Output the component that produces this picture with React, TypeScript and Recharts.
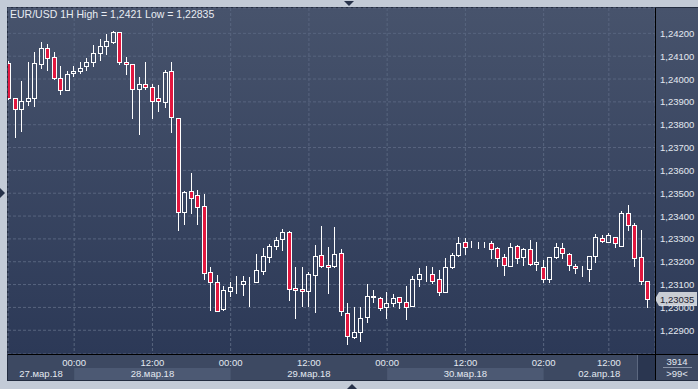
import React from "react";
import { ComposedChart, Bar, XAxis, YAxis, CartesianGrid, ReferenceLine } from "recharts";

// hourly EUR/USD candles, 27.03 14:00 .. 02.04 18:00
const open = [
  1.2407, 1.23917, 1.23869, 1.23904, 1.23917, 1.24066, 1.24136, 1.24096, 1.24004, 1.23952,
  1.24026, 1.24035, 1.24057, 1.24074, 1.24114, 1.24145, 1.24162, 1.24206, 1.24074, 1.24066,
  1.23956, 1.23978, 1.23965, 1.23917, 1.23899, 1.24035, 1.23829, 1.23417, 1.23509, 1.23492,
  1.23444, 1.23155, 1.23111, 1.22993, 1.23071, 1.23089, 1.23102, 1.23115, 1.23111, 1.23159,
  1.2322, 1.23268, 1.23299, 1.2333, 1.23085, 1.2308, 1.23071, 1.23141, 1.23229, 1.23185,
  1.23181, 1.23238, 1.22975, 1.2287, 1.22892, 1.22957, 1.2305, 1.23041, 1.23001, 1.23019,
  1.23045, 1.23023, 1.23006, 1.23124, 1.2315, 1.23146, 1.23124, 1.23067, 1.23176, 1.23229,
  1.23286, 1.23268, 1.23273, 1.23282, 1.23282, 1.2326, 1.2322, 1.23181, 1.23268, 1.2322,
  1.23255, 1.2319, 1.23176, 1.23124, 1.2322, 1.2326, 1.23233, 1.23181, 1.23172, 1.23168,
  1.23225, 1.23304, 1.23286, 1.23308, 1.23268, 1.23413, 1.2336, 1.2322, 1.23115,
];
const high = [
  1.24079, 1.23917, 1.23991, 1.24074, 1.24118, 1.24162, 1.24153, 1.24118, 1.24057, 1.24035,
  1.24057, 1.24074, 1.24092, 1.24149, 1.24175, 1.24197, 1.2421, 1.24206, 1.24096, 1.24066,
  1.24009, 1.24074, 1.23978, 1.23974, 1.24039, 1.24074, 1.23829, 1.23509, 1.23588, 1.23514,
  1.23496, 1.23176, 1.23141, 1.23093, 1.23111, 1.23137, 1.23137, 1.23133, 1.23233, 1.2326,
  1.23277, 1.23308, 1.23343, 1.23334, 1.23176, 1.23176, 1.23155, 1.23273, 1.23356, 1.23264,
  1.23351, 1.23255, 1.23019, 1.23001, 1.23001, 1.23102, 1.23076, 1.23045, 1.23067, 1.23058,
  1.23045, 1.23093, 1.23137, 1.23172, 1.23181, 1.23176, 1.23163, 1.23216, 1.23238, 1.23308,
  1.23304, 1.2329, 1.23286, 1.23286, 1.2329, 1.23264, 1.23233, 1.23282, 1.23273, 1.2326,
  1.23295, 1.23286, 1.23207, 1.2322, 1.23282, 1.23282, 1.23238, 1.2319, 1.23181, 1.23225,
  1.23321, 1.23317, 1.23325, 1.23308, 1.23422, 1.23448, 1.23369, 1.23339, 1.23115,
];
const low = [
  1.23908, 1.23742, 1.23768, 1.23882, 1.23877, 1.24044, 1.24035, 1.23996, 1.2393, 1.23947,
  1.24009, 1.24022, 1.24035, 1.24053, 1.24079, 1.24105, 1.24153, 1.24061, 1.24018, 1.23825,
  1.23755, 1.23952, 1.23825, 1.23855, 1.23873, 1.23764, 1.23334, 1.2336, 1.23409, 1.2336,
  1.2312, 1.22984, 1.22979, 1.22984, 1.23045, 1.23058, 1.2305, 1.23001, 1.23106, 1.23141,
  1.23194, 1.23251, 1.23247, 1.23028, 1.22948, 1.23001, 1.23001, 1.22975, 1.23172, 1.23058,
  1.23172, 1.22962, 1.22835, 1.22861, 1.22848, 1.22931, 1.23019, 1.22984, 1.22948, 1.23001,
  1.22993, 1.22944, 1.23001, 1.23089, 1.23111, 1.23102, 1.2305, 1.23063, 1.23168, 1.2322,
  1.23229, 1.2326, 1.23255, 1.2326, 1.23212, 1.23176, 1.23137, 1.23176, 1.2319, 1.23181,
  1.23181, 1.23159, 1.23106, 1.23106, 1.23212, 1.23212, 1.23159, 1.23146, 1.23133, 1.23111,
  1.23194, 1.23282, 1.23282, 1.2326, 1.23264, 1.23334, 1.23176, 1.23098, 1.22997,
];
const close = [
  1.23917, 1.23869, 1.23904, 1.23917, 1.2407, 1.24136, 1.24092, 1.24004, 1.23952, 1.24022,
  1.24035, 1.24048, 1.24074, 1.24114, 1.24145, 1.24166, 1.24206, 1.24074, 1.24066, 1.23956,
  1.23978, 1.23965, 1.23904, 1.23904, 1.24031, 1.23834, 1.23417, 1.23505, 1.23479, 1.23439,
  1.2315, 1.23111, 1.22984, 1.23076, 1.23089, 1.23089, 1.23115, 1.23115, 1.23163, 1.23225,
  1.23268, 1.23295, 1.2333, 1.2308, 1.23076, 1.23071, 1.23146, 1.23225, 1.23181, 1.23176,
  1.23233, 1.22984, 1.22874, 1.22892, 1.22953, 1.2305, 1.23045, 1.22997, 1.23019, 1.23041,
  1.23023, 1.23001, 1.23124, 1.23146, 1.2315, 1.23115, 1.23067, 1.23176, 1.23229, 1.23282,
  1.23264, 1.23268, 1.23273, 1.23282, 1.23255, 1.23216, 1.23185, 1.23264, 1.23216, 1.23255,
  1.2319, 1.23198, 1.23124, 1.2322, 1.23264, 1.23238, 1.23185, 1.23172, 1.23172, 1.23225,
  1.23308, 1.2329, 1.23317, 1.23282, 1.23413, 1.2336, 1.23216, 1.23115, 1.23035,
];

const priceTicks = [1.229, 1.23, 1.231, 1.232, 1.233, 1.234, 1.235, 1.236, 1.237, 1.238, 1.239, 1.24, 1.241, 1.242];
const timeTicks = [10, 22, 34, 46, 58, 70, 82, 92];
const timeLabels = ["00:00", "12:00", "00:00", "12:00", "00:00", "12:00", "02:00", "12:00"];
const DOM_MIN = -0.15;
const DOM_MAX = 99.08;
const dayStarts = [DOM_MIN, 10, 34, 58, 82];
const dayLabels = ["27.мар.18", "28.мар.18", "29.мар.18", "30.мар.18", "02.апр.18"];

const RED = "#e2173f";
const TXT = "#e3e8f0";
const FONT = "'Liberation Sans', Arial, sans-serif";

const data = open.map((o, i) => ({
  i,
  open: o,
  high: high[i],
  low: low[i],
  close: close[i],
  range: [low[i], high[i]],
}));

const fmt = (v: number, d = 5) => v.toFixed(d).replace(".", ",");

const Candle = (props: any) => {
  const { x, y, width, height, payload } = props;
  if (height == null || !payload) return null;
  const { open, high, low, close } = payload;
  const k = height / (high - low || 1e-9);
  const yO = y + (high - open) * k;
  const yC = y + (high - close) * k;
  const cx = Math.round(x + width / 2);
  const up = close >= open;
  const top = Math.round(Math.min(yO, yC));
  const bot = Math.round(Math.max(yO, yC));
  const yH = Math.round(y);
  const yL = Math.round(y + height);
  return (
    <g>
      {yH < top && <line x1={cx - 0.5} x2={cx - 0.5} y1={yH} y2={top} stroke="#fff" />}
      {yL > bot && <line x1={cx - 0.5} x2={cx - 0.5} y1={bot} y2={yL} stroke="#fff" />}
      <rect x={cx - 2.5} y={top + 0.5} width={4} height={Math.max(bot - top, 0)} fill={up ? "none" : RED} stroke="#fff" />
    </g>
  );
};

const XTick = (props: any) => {
  const { x, y, payload, width } = props;
  const v = payload.value;
  const step = (width || 647) / (DOM_MAX - DOM_MIN);
  const ti = timeTicks.indexOf(v);
  const di = dayStarts.indexOf(v);
  let band = null;
  if (di >= 0) {
    const end = di + 1 < dayStarts.length ? dayStarts[di + 1] : DOM_MAX;
    const w = (end - v) * step;
    band = (
      <g>
        {di % 2 === 1 && <rect x={x} y={y + 14} width={w} height={12} fill="#4c5973" />}
        <text x={x + w / 2} y={y + 23} textAnchor="middle" fill={TXT} fontSize={9.5} fontFamily={FONT}>
          {dayLabels[di]}
        </text>
      </g>
    );
  }
  return (
    <g>
      {band}
      {ti >= 0 && (
        <text x={x} y={y + 12} textAnchor="middle" fill={TXT} fontSize={9.5} fontFamily={FONT}>
          {timeLabels[ti]}
        </text>
      )}
    </g>
  );
};

const YTick = (props: any) => {
  const { x, y, payload } = props;
  return (
    <text x={x + 5} y={y + 3.5} fill={TXT} fontSize={9.5} fontFamily={FONT}>
      {fmt(payload.value)}
    </text>
  );
};

const PriceTag = (props: any) => {
  const vb = props.viewBox;
  if (!vb) return null;
  const x = vb.x + vb.width;
  const y = Math.round(vb.y);
  return (
    <g>
      <polygon points={`${x},${y} ${x + 4},${y - 7} ${x + 42},${y - 7} ${x + 42},${y + 7} ${x + 4},${y + 7}`} fill="#c9cdd4" />
      <text x={x + 5} y={y + 3.5} fill="#1b2130" fontSize={9.5} fontFamily={FONT}>
        {fmt(close[close.length - 1])}
      </text>
    </g>
  );
};

const abs = (s: React.CSSProperties): React.CSSProperties => ({ position: "absolute", ...s });

export default function App() {
  return (
    <div style={abs({ left: 0, top: 0, width: 698, height: 389, background: "#c3cbd7", overflow: "hidden", fontFamily: FONT })}>
      <div style={abs({ left: 7, top: 7, width: 691, height: 374, background: "#222c40" })} />
      <div style={abs({ left: 8, top: 8, width: 690, height: 346, background: "linear-gradient(#47536c, #2c3957)" })} />
      <div style={abs({ left: 8, top: 354, width: 690, height: 26, background: "#3d4962" })} />
      <div style={abs({ left: 0, top: 0 })}>
        <ComposedChart width={698} height={389} data={data} margin={{ top: 8, right: 0, bottom: 0, left: 8 }}>
          <CartesianGrid stroke="#58657f" strokeDasharray="3 2" />
          <XAxis
            dataKey="i"
            type="number"
            domain={[DOM_MIN, DOM_MAX]}
            allowDataOverflow
            ticks={[...new Set([...dayStarts, ...timeTicks])].sort((a, b) => a - b)}
            interval={0}
            tickSize={0}
            tickMargin={0}
            tickLine={false}
            axisLine={false}
            height={35}
            tick={<XTick />}
          />
          <YAxis
            orientation="right"
            domain={[1.22796, 1.24311]}
            allowDataOverflow
            ticks={priceTicks}
            interval={0}
            tickSize={0}
            tickMargin={0}
            tickLine={false}
            axisLine={false}
            width={43}
            tick={<YTick />}
          />
          <Bar dataKey="range" barSize={5} shape={<Candle />} isAnimationActive={false} />
          <ReferenceLine y={close[close.length - 1]} stroke="none" label={<PriceTag />} />
        </ComposedChart>
      </div>
      <div style={abs({ left: 637, top: 355, width: 18, height: 25, background: "#2a3650", borderLeft: "1px solid #5c6880" })} />
      <div style={abs({ left: 655, top: 8, width: 1, height: 372, background: "#000" })} />
      <div style={abs({ left: 8, top: 354, width: 690, height: 1, background: "#000" })} />
      <div style={abs({ left: 656, top: 356, width: 42, textAlign: "center", fontSize: 9.5, color: TXT })}>3914</div>
      <div style={abs({ left: 663, top: 367, width: 29, height: 1, background: "#8a94a8" })} />
      <div style={abs({ left: 656, top: 368, width: 42, textAlign: "center", fontSize: 9.5, color: TXT })}>&gt;99&lt;</div>
      <svg width={698} height={389} style={abs({ left: 0, top: 0 })}>
        <polygon points="344,1 354,1 349,6" fill="#27324a" />
        <polygon points="0,188 5,193 0,198" fill="#27324a" />
        <polygon points="347,389 357,389 352,384" fill="#27324a" />
      </svg>
      <div style={abs({ left: 10, top: 8, fontSize: 10.5, color: "#e8ecf2", whiteSpace: "nowrap" })}>
        EUR/USD 1H High = 1,2421 Low = 1,22835
      </div>
    </div>
  );
}
